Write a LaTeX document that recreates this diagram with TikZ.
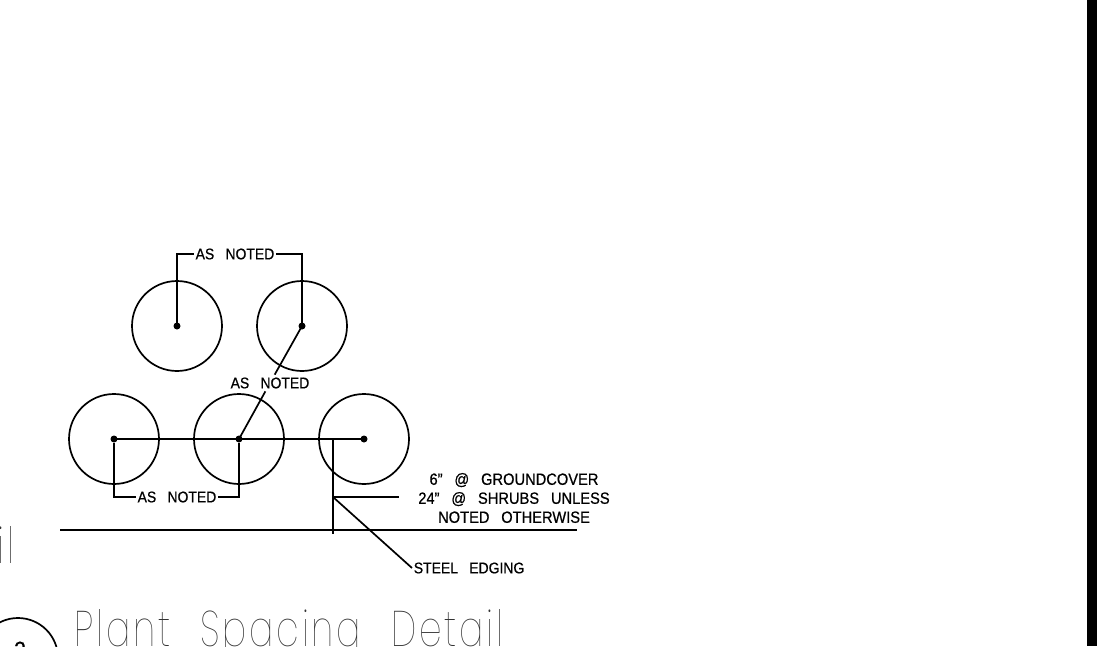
\documentclass[tikz,border=0pt]{standalone}
\usepackage{fontspec}
\setmainfont{Liberation Sans}[WordSpace=2.9,FakeStretch=0.9,FakeBold=0.6]
\newfontfamily\titlefont{Poppins Thin}[FakeStretch=0.72,LetterSpace=5.6,WordSpace=2.3]
\begin{document}
\begin{tikzpicture}[x=1pt, y=-1pt, line width=1.7pt,
    plant/.style={circle,draw,minimum size=90pt,inner sep=0pt},
    dot/.style={circle,fill,minimum size=7pt,inner sep=0pt},
    note/.style={font=\fontsize{15.5}{19}\selectfont,inner sep=1pt,align=center},
    title/.style={font=\titlefont\fontsize{50}{50}\selectfont,inner sep=0pt,anchor=base west,text=black!80}]
    \useasboundingbox (0, 0) rectangle (1109, 646);
    \clip (0, 0) rectangle (1109, 646);

    \node[plant] at (177, 326) (1) {};
    \node[plant] at (302, 326) (2) {};
    \node[plant] at (114, 439) (3) {};
    \node[plant] at (239, 439) (4) {};
    \node[plant] at (364, 439) (5) {};
    \node[dot] at (177, 326) (d1) {};
    \node[dot] at (302, 326) (d2) {};
    \node[dot] at (114, 439) (d3) {};
    \node[dot] at (239, 439) (d4) {};
    \node[dot] at (364, 439) (d5) {};

    \node[note] at (235, 254) (top) {AS NOTED};
    \node[note,inner sep=2pt] at (270, 383) (mid) {AS NOTED};
    \node[note] at (177, 497) (low) {AS NOTED};
    \node[note,font=\fontsize{16.3}{19}\selectfont] at (514, 498) (spacing) {6” @ GROUNDCOVER\\24” @ SHRUBS UNLESS\\NOTED OTHERWISE};
    \node[note,anchor=west] at (412, 568) (steel) {STEEL EDGING};

    \coordinate (g1) at (60, 530);
    \coordinate (g2) at (577, 530);
    \coordinate (e1) at (333, 439);
    \coordinate (e2) at (333, 534);
    \coordinate (j) at (333, 497);
    \coordinate (s) at (399, 497);

    \draw (d1.center) |- (top.west);
    \draw (d2.center) |- (top.east);
    \draw (d2.center) -- (mid);
    \draw (mid) -- (d4.center);
    \draw (d3.south) |- (low.west);
    \draw (d4.south) |- (low.east);
    \draw (d3.center) -- (d5.center);
    \draw (g1) -- (g2);
    \draw (e1) -- (e2);
    \draw (j) -- (s);
    \draw (j) -- (steel.west);

    % cut off by the page
    \node[title,anchor=base east] at (15, 563) (left) {il};
    \node[title] at (74, 646) (name) {Plant Spacing Detail};
    \node[circle,draw,minimum size=80pt,inner sep=0pt] at (18, 658) (bubble) {};
    \node[font=\fontsize{24}{24}\selectfont,inner sep=0pt] at (20, 650) (num) {2};

    \fill (1086.5, 0) rectangle (1097, 646);
\end{tikzpicture}
\end{document}
